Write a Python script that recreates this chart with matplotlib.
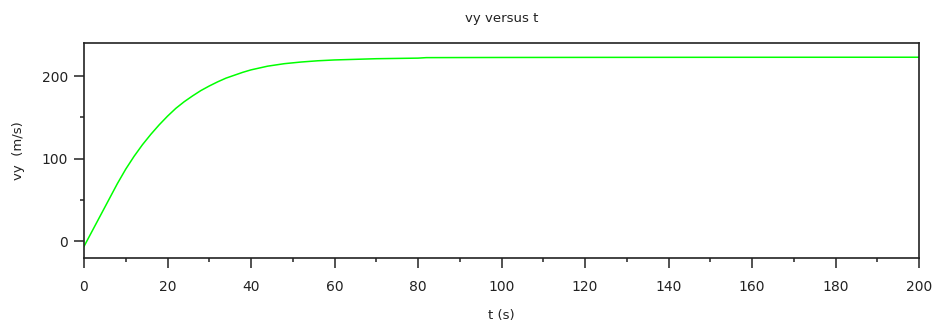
import matplotlib
matplotlib.use("Agg")
import matplotlib.pyplot as plt
from matplotlib.ticker import MultipleLocator

# vertical velocity vs time
t = [0, 2, 4, 6, 8, 10, 12, 14, 16, 18, 20, 22, 24, 26, 28, 30, 32, 34, 36, 38, 40,
     44, 48, 52, 56, 60, 70, 80, 82, 90, 100, 120, 150, 200]
vy = [-6, 13, 32, 51, 70, 87.5, 103, 117, 129.5, 141, 151.5, 161, 169, 176, 182.5,
      188, 193, 197.5, 201, 204.5, 207.5, 212, 215, 217, 218.5, 219.5, 221, 221.7,
      222.3, 222.4, 222.5, 222.6, 222.7, 222.8]

plt.rcParams["font.family"] = ["DejaVu Sans"]

fig = plt.figure(figsize=(9.36, 3.29), dpi=100)
ax = fig.add_axes([84 / 936, 1 - 258 / 329, (919 - 84) / 936, (258 - 43) / 329])

ax.plot(t, vy, color="#00ff00", linewidth=1.1)

ax.set_xlim(0, 200)
ax.set_ylim(-20, 240)
ax.xaxis.set_major_locator(MultipleLocator(20))
ax.xaxis.set_minor_locator(MultipleLocator(10))
ax.yaxis.set_major_locator(MultipleLocator(100))
ax.yaxis.set_minor_locator(MultipleLocator(50))

ax.tick_params(which="major", direction="out", length=7.5, width=1.1, colors="#222222",
               labelsize=10, labelcolor="#222222")
ax.tick_params(which="minor", direction="out", length=3, width=1.1, colors="#222222")
ax.tick_params(axis="x", which="major", pad=8)
ax.tick_params(axis="y", which="major", pad=4)

for s in ax.spines.values():
    s.set_linewidth(1.2)
    s.set_color("#222222")

ax.set_title("vy versus t", fontsize=9.5, pad=15, color="#222222")
ax.set_xlabel("t (s)", fontsize=9.5, labelpad=11, color="#222222")
ax.set_ylabel("vy  (m/s)", fontsize=9.5, labelpad=12, color="#222222")

fig.savefig("out.png", dpi=100)
